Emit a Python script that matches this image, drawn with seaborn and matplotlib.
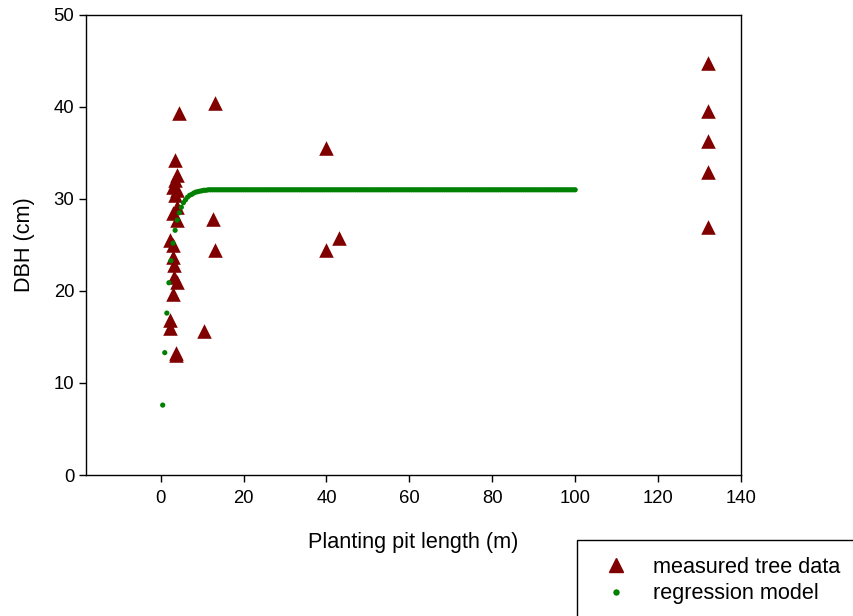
import numpy as np
import pandas as pd
import matplotlib
matplotlib.use("Agg")
import matplotlib.pyplot as plt
import seaborn as sns
from matplotlib.patches import Rectangle
from matplotlib.lines import Line2D

sns.set_style("white")
plt.rcParams['font.family'] = ['Liberation Sans', 'DejaVu Sans']
plt.rcParams['text.color'] = 'black'
plt.rcParams['axes.labelcolor'] = 'black'

# measured tree data
meas_x = [4.5, 13.0, 3.5, 4.0, 3.5, 3.0, 4.0, 3.5, 4.0, 3.0, 4.0, 12.7, 2.2, 3.0,
          13.0, 3.0, 3.2, 3.2, 4.0, 3.0, 2.2, 2.2, 10.5, 3.8, 3.6,
          40.0, 40.0, 43.0, 132.0, 132.0, 132.0, 132.0, 132.0]
meas_y = [39.4, 40.4, 34.2, 32.6, 32.1, 31.3, 31.0, 30.4, 29.1, 28.5, 27.7, 27.8, 25.5, 25.0,
          24.5, 23.7, 22.8, 21.5, 21.0, 19.7, 16.8, 16.0, 15.6, 13.3, 13.0,
          35.5, 24.5, 25.8, 44.8, 39.6, 36.3, 32.9, 27.0]

# regression model (read at 0.5 m steps from 0.5 to 100 m)
model_x = list(np.arange(0.5, 100.01, 0.5))
model_y_head = [7.6, 13.3, 17.6, 20.9, 23.3, 25.2, 26.6, 27.7, 28.5, 29.1,
                29.6, 29.9, 30.2, 30.4, 30.5, 30.65, 30.75, 30.8, 30.85, 30.9,
                30.95, 30.95]
model_y = model_y_head + [31.0] * (len(model_x) - len(model_y_head))

x_ticks = [0, 20, 40, 60, 80, 100, 120, 140]
y_ticks = [0, 10, 20, 30, 40, 50]

meas = pd.DataFrame({"x": meas_x, "y": meas_y})
model = pd.DataFrame({"x": model_x, "y": model_y})

fig = plt.figure(figsize=(8.54, 6.16), dpi=100)
ax = fig.add_axes([86/854, 1-475/616, (741-86)/854, (475-15)/616])

sns.scatterplot(data=meas, x="x", y="y", ax=ax, marker="^", s=110, color="#800000",
                edgecolor="#800000", linewidth=0, zorder=3)
sns.scatterplot(data=model, x="x", y="y", ax=ax, marker="o", s=14, color="#008000",
                edgecolor="none", linewidth=0, zorder=4)

ax.set_xlim(-18, 140)
ax.set_ylim(0, 50)
ax.set_xticks(x_ticks)
ax.set_yticks(y_ticks)
ax.tick_params(axis="both", which="both", direction="out", length=5, width=1,
               labelsize=13.3, colors="black", bottom=True, left=True, top=False, right=False)
ax.tick_params(axis="x", pad=6)
for sp in ax.spines.values():
    sp.set_color("black")
    sp.set_linewidth(1)
ax.set_xlabel("Planting pit length (m)", fontsize=15.6, labelpad=18, color="black")
ax.set_ylabel("DBH (cm)", fontsize=15.6, labelpad=13, color="black")

handles = [Line2D([], [], marker="^", color="#800000", linestyle="none", markersize=10),
           Line2D([], [], marker="o", color="#008000", linestyle="none", markersize=3.6)]
leg = fig.legend(handles, ["measured tree data", "regression model"],
                 loc="upper left", bbox_to_anchor=(603/854, 1-557/616),
                 frameon=False, fontsize=15.6, handlelength=1.2, handletextpad=1.1,
                 labelspacing=0.25, borderpad=0, borderaxespad=0)
for t in leg.get_texts():
    t.set_color("black")

rect = Rectangle((577/854, -0.2), 0.6, 1-540/616+0.2, transform=fig.transFigure,
                 fill=False, edgecolor="black", linewidth=1)
fig.patches.append(rect)

fig.savefig("out.png", dpi=100)
